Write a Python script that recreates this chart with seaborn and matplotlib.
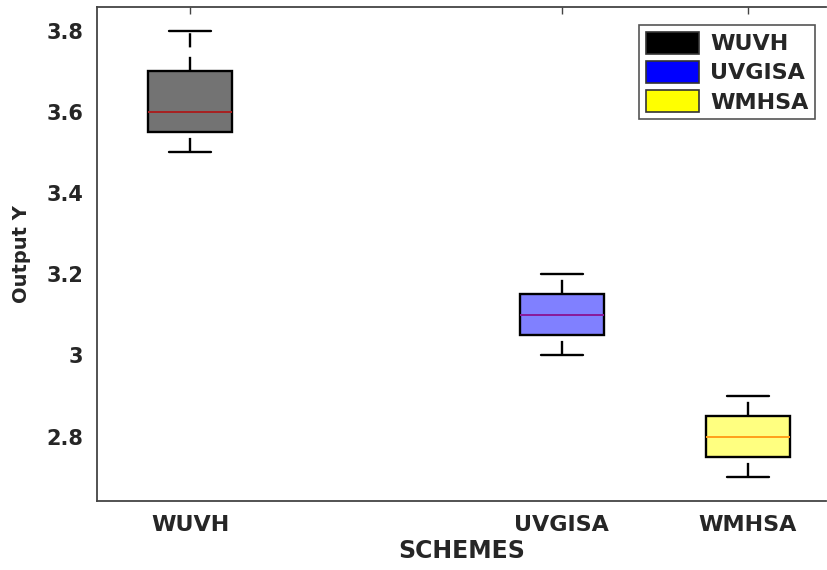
import numpy as np
import pandas as pd
import matplotlib
matplotlib.use("Agg")
import matplotlib.pyplot as plt
import seaborn as sns
from matplotlib.patches import Patch
from matplotlib.ticker import FormatStrFormatter

# dados (5 pontos por esquema -> min, q1, mediana, q3, max)
schemes = ["WUVH", "UVGISA", "WMHSA"]
positions = [1, 3, 4]
wuvh_vals = [3.50, 3.55, 3.60, 3.70, 3.80]
uvgisa_vals = [3.00, 3.05, 3.10, 3.15, 3.20]
wmhsa_vals = [2.70, 2.75, 2.80, 2.85, 2.90]

# cores
box_colors = ["#737373", "#8080ff", "#ffff80"]
median_colors = ["#a82020", "#8a1a9a", "#ff9f1a"]
legend_colors = ["#000000", "#0000ff", "#ffff00"]

all_vals = [wuvh_vals, uvgisa_vals, wmhsa_vals]

sns.set_style("white")
plt.rcParams["font.family"] = ["DejaVu Sans"]
plt.rcParams["font.weight"] = "bold"

fig = plt.figure(figsize=(8.27, 5.70), dpi=100)
ax = fig.add_axes([97 / 827, 1 - 500.7 / 570, (826 - 97) / 827, (500.7 - 7) / 570])

for i, nome in enumerate(schemes):
    df = pd.DataFrame({"pos": [positions[i]] * len(all_vals[i]), "val": all_vals[i]})
    sns.boxplot(data=df, x="pos", y="val", native_scale=True, width=0.45,
                color=box_colors[i], saturation=1, linecolor="black",
                linewidth=1.7, ax=ax,
                medianprops={"color": median_colors[i], "linewidth": 1.4},
                whiskerprops={"linestyle": (0, (6, 4)), "linewidth": 1.7},
                capprops={"linewidth": 1.7})

# bigode de baixo comeca com espaco (como no original)
for ln in ax.lines:
    y = ln.get_ydata()
    if len(y) == 2 and ln.get_linestyle() != "-" and y[1] < y[0]:
        ln.set_linestyle((7.5, (6, 4)))

ax.set_xlim(0.5, 4.42)
ax.set_ylim(2.642, 3.858)
ax.set_xticks(positions)
ax.set_xticklabels(schemes)
ax.set_yticks([2.8, 3.0, 3.2, 3.4, 3.6, 3.8])
ax.yaxis.set_major_formatter(FormatStrFormatter("%g"))

for s in ax.spines.values():
    s.set_visible(True)
    s.set_color("#444444")
    s.set_linewidth(1.3)
ax.spines["right"].set_visible(False)

ax.tick_params(axis="both", direction="in", length=5, width=1, color="#444444",
               top=True, right=False, labelcolor="#262626")
ax.tick_params(axis="y", pad=10, labelsize=15)
ax.tick_params(axis="x", pad=10, labelsize=16)

ax.set_xlabel("SCHEMES", fontsize=17, fontweight="bold", color="#262626", labelpad=3)
ax.set_ylabel("Output Y", fontsize=14, fontweight="bold", color="#262626", labelpad=11)

handles = [Patch(facecolor=c, edgecolor="#333333", linewidth=1.2) for c in legend_colors]
leg = ax.legend(handles, schemes, loc="upper right", bbox_to_anchor=(0.985, 0.9635),
                borderaxespad=0, fancybox=False, framealpha=1, edgecolor="#555555",
                prop={"size": 16, "weight": "bold"}, handlelength=2.4, handleheight=1.15,
                labelspacing=0.3, handletextpad=0.5, borderpad=0.3)
leg.get_frame().set_linewidth(1.2)

fig.savefig("out.png", dpi=100)
